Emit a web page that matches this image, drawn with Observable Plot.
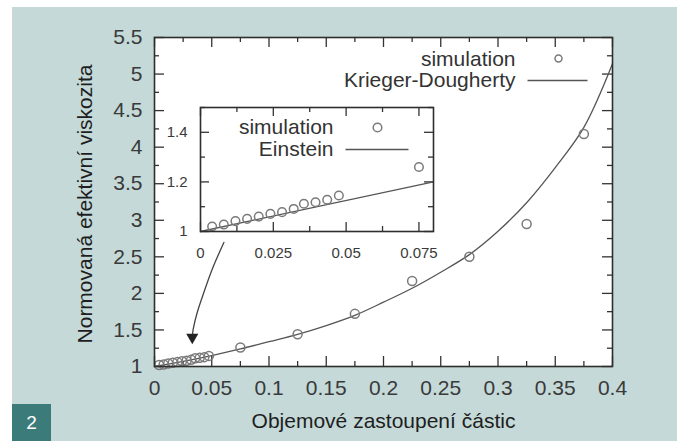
<!DOCTYPE html>
<html>
<head>
<meta charset="utf-8">
<script src="https://cdn.jsdelivr.net/npm/d3@7"></script>
<script src="https://cdn.jsdelivr.net/npm/@observablehq/plot@0.6"></script>
<style>
  html, body { margin: 0; padding: 0; background: #ffffff; }
  #wrap { position: relative; width: 677px; height: 441px; overflow: hidden; background: #ffffff; font-family: "Liberation Sans", Arial, sans-serif; }
  #bg { position: absolute; left: 12px; top: 7px; width: 665px; height: 434px; background: #c4d9d8; }
  #badge { position: absolute; left: 12px; top: 404px; width: 39px; height: 37px; background: #3b7b79; color: #ffffff; font-size: 19px; display: flex; align-items: center; justify-content: center; }
  #main, #inset { position: absolute; }
  #main { left: 0; top: 0; }
  #inset { left: 140px; top: 95px; }
  svg { background: transparent !important; overflow: visible; }
</style>
</head>
<body>
<div id="wrap">
  <div id="bg"></div>
  <div id="badge">2</div>
  <div id="main"></div>
  <div id="inset"></div>
</div>
<script>
// ---------- data ----------
const simX = [0.004, 0.008, 0.012, 0.016, 0.020, 0.024, 0.028, 0.032, 0.0355, 0.0395, 0.0435, 0.0475, 0.075, 0.125, 0.175, 0.225, 0.275, 0.325, 0.375];
const simY = [1.020, 1.028, 1.042, 1.051, 1.060, 1.071, 1.078, 1.091, 1.112, 1.118, 1.128, 1.145, 1.26, 1.44, 1.72, 2.17, 2.50, 2.95, 4.18];

const kdX = [0, 0.025, 0.05, 0.075, 0.1, 0.125, 0.15, 0.175, 0.2, 0.225, 0.25, 0.275, 0.3, 0.325, 0.35, 0.375, 0.4];
const kdY = [1, 1.07, 1.15, 1.24, 1.34, 1.44, 1.56, 1.70, 1.88, 2.07, 2.29, 2.53, 2.85, 3.24, 3.72, 4.27, 5.14];

const einX = [0, 0.08];
const einY = [1, 1.2];

// arrow annotation path (data units of the main chart)
const arrowX = [0.0606, 0.0504, 0.0431, 0.0373, 0.0338, 0.0332];
const arrowY = [2.697, 2.331, 2.012, 1.739, 1.510, 1.438];
const arrowTip = [{x: 0.0330, y: 1.40}];

// main axes ticks
const xMajor = [0, 0.05, 0.1, 0.15, 0.2, 0.25, 0.3, 0.35, 0.4];
const xMinor = [0.025, 0.075, 0.125, 0.175, 0.225, 0.275, 0.325, 0.375];
const yMajor = [1, 1.5, 2, 2.5, 3, 3.5, 4, 4.5, 5, 5.5];
const yMinor = [1.25, 1.75, 2.25, 2.75, 3.25, 3.75, 4.25, 4.75, 5.25];

// inset axes ticks
const ixMajor = [0, 0.025, 0.05, 0.075];
const ixMinor = [0.0125, 0.0375, 0.0625];
const iyMajor = [1, 1.2, 1.4];
const iyMinor = [1.1, 1.3, 1.5];

const xTitle = "Objemové zastoupení částic";
const yTitle = "Normovaná efektivní viskozita";
const legendMain = ["simulation", "Krieger-Dougherty"];
const legendInset = ["simulation", "Einstein"];

// ---------- tables ----------
const sim = simX.map((x, i) => ({x, y: simY[i]}));
const simInset = sim.filter(d => d.x <= 0.08);
const kd = kdX.map((x, i) => ({x, y: kdY[i]}));
const ein = einX.map((x, i) => ({x, y: einY[i]}));
const arrow = arrowX.map((x, i) => ({x, y: arrowY[i]}));

const FONT = "'Liberation Sans', Arial, Helvetica, sans-serif";
const INK = "#333";
const lineSymbol = (half) => ({ draw(ctx) { ctx.moveTo(-half, 0); ctx.lineTo(half, 0); } });

// ---------- main chart ----------
const W = 677, H = 441, mL = 154, mR = 65, mT = 37, mB = 75;
const innerH = H - mT - mB;
const maj = 10, mnr = 5;

const main = Plot.plot({
  width: W, height: H,
  marginLeft: mL, marginRight: mR, marginTop: mT, marginBottom: mB,
  style: {fontFamily: FONT, background: "transparent", overflow: "visible"},
  x: {domain: [0, 0.4]},
  y: {domain: [1, 5.5]},
  marks: [
    Plot.frame({fill: "white", stroke: null}),
    // inward ticks
    Plot.ruleX(xMajor, {x: d => d, insetTop: innerH - maj, stroke: INK, strokeWidth: 1.3}),
    Plot.ruleX(xMinor, {x: d => d, insetTop: innerH - mnr, stroke: INK, strokeWidth: 1.3}),
    Plot.ruleX(xMajor, {x: d => d, insetBottom: innerH - maj, stroke: INK, strokeWidth: 1.3}),
    Plot.ruleX(xMinor, {x: d => d, insetBottom: innerH - mnr, stroke: INK, strokeWidth: 1.3}),
    Plot.ruleY(yMajor, {y: d => d, insetRight: (W - mL - mR) - maj, stroke: INK, strokeWidth: 1.3}),
    Plot.ruleY(yMinor, {y: d => d, insetRight: (W - mL - mR) - mnr, stroke: INK, strokeWidth: 1.3}),
    Plot.ruleY(yMajor, {y: d => d, insetLeft: (W - mL - mR) - maj, stroke: INK, strokeWidth: 1.3}),
    Plot.ruleY(yMinor, {y: d => d, insetLeft: (W - mL - mR) - mnr, stroke: INK, strokeWidth: 1.3}),
    // data
    Plot.line(kd, {x: "x", y: "y", curve: "catmull-rom", stroke: "#555", strokeWidth: 1.3}),
    Plot.dot(sim, {x: "x", y: "y", r: 4.5, stroke: "#7a7a7a", strokeWidth: 1.5, fill: "none"}),
    // arrow
    Plot.line(arrow, {x: "x", y: "y", curve: "catmull-rom", stroke: "#444", strokeWidth: 1.3}),
    Plot.dot(arrowTip, {x: "x", y: "y", symbol: "triangle", rotate: 180, r: 4.5, fill: "#222", stroke: null}),
    // legend
    Plot.text([legendMain[0]], {text: d => d, frameAnchor: "top-right", dx: -97, dy: 22, textAnchor: "end", lineAnchor: "middle", fontSize: 21, fill: INK}),
    Plot.text([legendMain[1]], {text: d => d, frameAnchor: "top-right", dx: -97, dy: 43, textAnchor: "end", lineAnchor: "middle", fontSize: 21, fill: INK}),
    Plot.dot([0], {frameAnchor: "top-right", dx: -54, dy: 21, r: 3.5, stroke: "#7a7a7a", strokeWidth: 1.5, fill: "none"}),
    Plot.dot([0], {frameAnchor: "top-right", dx: -55, dy: 43, symbol: lineSymbol(30), r: 10, stroke: "#555", strokeWidth: 1.3, fill: "none"}),
    // axes labels
    Plot.axisX({ticks: xMajor, tickSize: 0, tickPadding: 14, fontSize: 21, tickFormat: d => String(d), label: null, fill: "#3a3a3a"}),
    Plot.axisY({ticks: yMajor, tickSize: 0, tickPadding: 12, fontSize: 21, tickFormat: d => String(d), label: null, fill: "#3a3a3a"}),
    Plot.text([xTitle], {text: d => d, frameAnchor: "bottom", dy: 55, textAnchor: "middle", lineAnchor: "middle", fontSize: 21, fill: "#1e1e1e", style: "letter-spacing:0.65px"}),
    Plot.text([yTitle], {text: d => d, frameAnchor: "left", rotate: -90, dx: -69, dy: 2, textAnchor: "middle", lineAnchor: "middle", fontSize: 21, fill: "#1e1e1e", style: "letter-spacing:0.6px"}),
    Plot.frame({stroke: "#2e2e2e", strokeWidth: 1.6})
  ]
});
document.getElementById("main").appendChild(main);

// ---------- inset chart ----------
const iW = 310, iH = 175, imL = 60, imR = 17, imT = 12, imB = 39;
const iInnerW = iW - imL - imR, iInnerH = iH - imT - imB;
const imaj = 9, imnr = 5;

const inset = Plot.plot({
  width: iW, height: iH,
  marginLeft: imL, marginRight: imR, marginTop: imT, marginBottom: imB,
  style: {fontFamily: FONT, background: "transparent", overflow: "visible"},
  x: {domain: [0, 0.08]},
  y: {domain: [1, 1.5]},
  marks: [
    Plot.frame({fill: "white", stroke: null}),
    Plot.ruleX(ixMajor, {x: d => d, insetTop: iInnerH - imaj, stroke: INK, strokeWidth: 1.3}),
    Plot.ruleX(ixMinor, {x: d => d, insetTop: iInnerH - imnr, stroke: INK, strokeWidth: 1.3}),
    Plot.ruleX(ixMajor, {x: d => d, insetBottom: iInnerH - imaj, stroke: INK, strokeWidth: 1.3}),
    Plot.ruleX(ixMinor, {x: d => d, insetBottom: iInnerH - imnr, stroke: INK, strokeWidth: 1.3}),
    Plot.ruleY(iyMajor, {y: d => d, insetRight: iInnerW - imaj, stroke: INK, strokeWidth: 1.3}),
    Plot.ruleY(iyMinor, {y: d => d, insetRight: iInnerW - imnr, stroke: INK, strokeWidth: 1.3}),
    Plot.ruleY(iyMajor, {y: d => d, insetLeft: iInnerW - imaj, stroke: INK, strokeWidth: 1.3}),
    Plot.ruleY(iyMinor, {y: d => d, insetLeft: iInnerW - imnr, stroke: INK, strokeWidth: 1.3}),
    Plot.line(ein, {x: "x", y: "y", stroke: "#555", strokeWidth: 1.3}),
    Plot.dot(simInset, {x: "x", y: "y", r: 4.3, stroke: "#7a7a7a", strokeWidth: 1.5, fill: "none"}),
    // legend
    Plot.text([legendInset[0]], {text: d => d, frameAnchor: "top-right", dx: -100, dy: 20, textAnchor: "end", lineAnchor: "middle", fontSize: 21, fill: INK}),
    Plot.text([legendInset[1]], {text: d => d, frameAnchor: "top-right", dx: -100, dy: 42, textAnchor: "end", lineAnchor: "middle", fontSize: 21, fill: INK}),
    Plot.dot([0], {frameAnchor: "top-right", dx: -56, dy: 20, r: 4.3, stroke: "#7a7a7a", strokeWidth: 1.5, fill: "none"}),
    Plot.dot([0], {frameAnchor: "top-right", dx: -56.5, dy: 42, symbol: lineSymbol(31.5), r: 10, stroke: "#555", strokeWidth: 1.3, fill: "none"}),
    Plot.axisX({ticks: ixMajor, tickSize: 0, tickPadding: 16, fontSize: 15, tickFormat: d => String(d), label: null, fill: "#3a3a3a"}),
    Plot.axisY({ticks: iyMajor, tickSize: 0, tickPadding: 13, fontSize: 15, tickFormat: d => String(d), label: null, fill: "#3a3a3a"}),
    Plot.frame({stroke: "#2e2e2e", strokeWidth: 1.6})
  ]
});
document.getElementById("inset").appendChild(inset);
</script>
</body>
</html>
